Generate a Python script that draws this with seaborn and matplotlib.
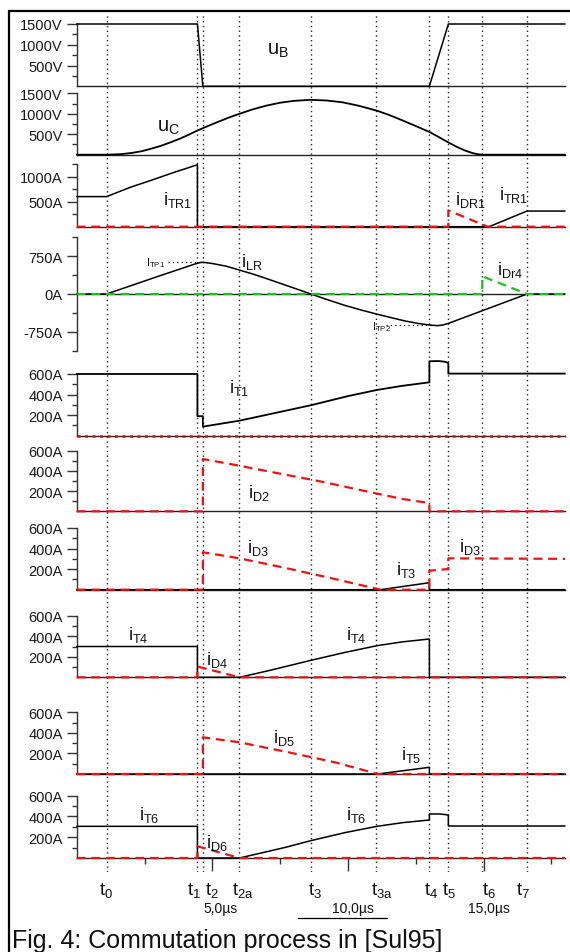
import matplotlib
matplotlib.use("Agg")
import matplotlib.pyplot as plt
import matplotlib.transforms as mtransforms
from matplotlib.lines import Line2D
import seaborn as sns

sns.set_theme(style="ticks")
plt.rcParams["font.family"] = ["Liberation Sans", "DejaVu Sans"]
plt.rcParams["mathtext.fontset"] = "custom"
plt.rcParams["mathtext.rm"] = "Liberation Sans"
plt.rcParams["mathtext.default"] = "regular"

# --- data (time in µs) ---
event_t = [1.1, 4.45, 4.65, 6.0, 8.65, 11.05, 13.0, 13.7, 14.95, 16.6]
event_names = ["0", "1", "2", "2a", "3", "3a", "4", "5", "6", "7"]
event_label_x = [1.08, 4.33, 4.98, 6.12, 8.8, 11.26, 13.05, 13.72, 15.2, 16.45]

uB_t = [0, 4.45, 4.65, 13.0, 13.7, 18]
uB_v = [1500, 1500, 0, 0, 1500, 1500]

uC_t = [0, 1.1, 1.6, 2.0, 2.4, 2.7, 3.1, 3.45, 3.8, 4.1, 4.45, 4.8, 5.2, 5.6, 6.0, 6.5, 7.0, 7.5,
        8.0, 8.63, 9.2, 9.8, 10.4, 11.07, 11.5, 12.0, 12.5, 13.03, 13.35, 13.69, 14.0, 14.33,
        14.6, 14.8, 14.96, 18]
uC_v = [0, 0, 12, 40, 85, 139, 215, 300, 390, 480, 590, 690, 800, 905, 1000, 1110, 1200, 1270,
        1315, 1340, 1325, 1280, 1195, 1075, 975, 840, 700, 547, 430, 303, 195, 98,
        38, 10, 0, 0]

iTR1_t = [0, 1.1, 2.0, 2.8, 3.6, 4.45, 4.45, 15.2, 16.6, 18]
iTR1_v = [600, 600, 790, 935, 1085, 1235, 0, 0, 312, 312]
iDR1_t = [0, 13.7, 13.7, 15.15, 18]
iDR1_v = [0, 0, 325, 0, 0]

iLR_t = [0, 1.1, 2.0, 3.0, 4.0, 4.3, 4.5, 4.65, 5.0, 5.5, 6.0, 6.5, 7.0, 7.7, 8.2, 8.63, 9.2,
         9.85, 10.5, 11.07, 11.6, 12.1, 12.6, 13.0, 13.3, 13.5, 13.69, 16.6, 18]
iLR_v = [0, 0, 165, 350, 530, 585, 618, 630, 605, 553, 475, 395, 305, 175, 82, 0, -105,
         -220, -320, -400, -470, -535, -585, -615, -628, -615, -585, 0, 0]
iDr4_t = [0, 14.95, 14.95, 16.6, 18]
iDr4_v = [0, 0, 352, 0, 0]
itp1_t = [3.37, 4.55]
itp1_v = [630, 630]
itp2_t = [11.4, 13.1]
itp2_v = [-622, -622]

iT1_t = [0, 4.45, 4.45, 4.65, 4.65, 6.0, 7.7, 8.63, 10.0, 11.07, 12.0, 13.0, 13.0, 13.35, 13.6, 13.7, 13.7, 18]
iT1_v = [600, 600, 190, 190, 88, 146, 243, 296, 385, 445, 485, 519, 724, 726, 718, 705, 604, 604]
iD1_t = [0, 18]
iD1_v = [0, 0]

iD2_t = [0, 4.65, 4.65, 6.0, 7.7, 9.0, 10.5, 12.0, 13.0, 13.0, 18]
iD2_v = [0, 0, 518, 451, 362, 295, 208, 122, 82, 0, 0]

iD3_t = [0, 4.65, 4.65, 6.0, 7.7, 9.5, 11.2, 13.0, 13.0, 13.7, 13.7, 18]
iD3_v = [0, 0, 364, 305, 211, 105, 0, 0, 185, 201, 305, 300]
iT3_t = [0, 11.2, 13.0, 13.0, 18]
iT3_v = [0, 0, 68, 0, 0]

iT4_t = [0, 4.45, 4.45, 6.0, 7.0, 7.7, 8.63, 9.9, 11.07, 12.0, 13.0, 13.0, 18]
iT4_v = [300, 300, 0, 0, 60, 105, 165, 243, 308, 345, 373, 0, 0]
iD4_t = [0, 4.45, 4.45, 6.0, 18]
iD4_v = [0, 0, 105, 0, 0]

iD5_t = [0, 4.65, 4.65, 6.0, 7.7, 9.5, 11.1, 18]
iD5_v = [0, 0, 357, 308, 217, 115, 0, 0]
iT5_t = [0, 11.1, 13.0, 13.0, 18]
iT5_v = [0, 0, 65, 0, 0]

iT6_t = [0, 4.45, 4.45, 6.0, 7.0, 7.7, 8.63, 9.9, 11.07, 12.0, 13.0, 13.0, 13.35, 13.6, 13.7, 13.7, 18]
iT6_v = [305, 305, 0, 0, 60, 103, 167, 245, 305, 340, 366, 424, 424, 418, 412, 308, 308]
iD6_t = [0, 4.45, 4.45, 6.0, 18]
iD6_v = [0, 0, 113, 0, 0]

# --- layout ---
W, H = 570, 953
fig = plt.figure(figsize=(W / 100, H / 100), dpi=100)
X0 = 76.7 / W
XW = (565 - 76.7) / W
RED = "#f01010"
GREEN = "#1fc01f"


def trace(ax, t, v, color="black", ls="-", lw=1.1):
    sns.lineplot(x=t, y=v, ax=ax, estimator=None, sort=False, color=color,
                 linestyle=ls, linewidth=lw, clip_on=False, zorder=3)


def panel(top, bottom, ylim, major, minor, unit):
    ax = fig.add_axes([X0, 1 - bottom / H, XW, (bottom - top) / H], facecolor="none")
    ax.set_xlim(0, 18)
    ax.set_ylim(*ylim)
    ax.spines["top"].set_visible(False)
    ax.spines["right"].set_visible(False)
    ax.spines["left"].set_color("#333333")
    ax.spines["bottom"].set_color("#222222")
    ax.spines["left"].set_linewidth(1.0)
    ax.spines["bottom"].set_linewidth(1.0)
    ax.set_yticks(major)
    ax.set_yticklabels([f"{m}{unit}" for m in major])
    ax.set_yticks(minor, minor=True)
    ax.tick_params(axis="y", which="major", length=7, width=1, pad=3,
                   labelsize=10.5, colors="#333333", labelcolor="#1a1a1a")
    ax.tick_params(axis="y", which="minor", length=3.6, width=1, colors="#333333")
    ax.set_xticks([])
    ax.set_xticks([], minor=True)
    return ax


# dotted time markers behind everything
ov = fig.add_axes([X0, 1 - 873 / H, XW, (873 - 15) / H], facecolor="none")
ov.set_xlim(0, 18)
ov.set_ylim(0, 1)
ov.axis("off")
for t in event_t:
    ov.axvline(t, color="0.15", lw=1.0, ls=(0, (1, 2.4)))

cur_major = [200, 400, 600]
cur_minor = [100, 300, 500]
axs = [
    panel(25, 87.3, (0, 1500), [500, 1000, 1500], [250, 750, 1250], "V"),
    panel(94.3, 155.7, (0, 1500), [500, 1000, 1500], [250, 750, 1250], "V"),
    panel(165, 227.7, (0, 1250), [500, 1000], [250, 750, 1250], "A"),
    panel(238.3, 351.7, (-1125, 1125), [-750, 0, 750], [-1125, -375, 375, 1125], "A"),
    panel(375, 436.7, (0, 600), cur_major, cur_minor, "A"),
    panel(451.7, 512.3, (0, 600), cur_major, cur_minor, "A"),
    panel(529, 590.7, (0, 600), cur_major, cur_minor, "A"),
    panel(616.7, 678.3, (0, 600), cur_major, cur_minor, "A"),
    panel(713.3, 775, (0, 600), cur_major, cur_minor, "A"),
    panel(796.7, 859, (0, 600), cur_major, cur_minor, "A"),
]

dash = (0, (4, 2.6))

trace(axs[0], uB_t, uB_v)
trace(axs[1], uC_t, uC_v, lw=1.3)

trace(axs[2], iTR1_t, iTR1_v)
trace(axs[2], iDR1_t, iDR1_v, RED, dash, 1.6)

axs[3].spines["bottom"].set_visible(False)
axs[3].axhline(0, color="#222222", lw=1.0, zorder=2)
trace(axs[3], iLR_t, iLR_v)
trace(axs[3], iDr4_t, iDr4_v, GREEN, dash, 1.6)
trace(axs[3], itp1_t, itp1_v, "black", (0, (1, 2.5)), 0.9)
trace(axs[3], itp2_t, itp2_v, "black", (0, (1, 2.5)), 0.9)

trace(axs[4], iT1_t, iT1_v, lw=1.3)
trace(axs[4], iD1_t, iD1_v, "#d01010", (0, (1.2, 1.8)), 1.8)

trace(axs[5], iD2_t, iD2_v, RED, dash, 1.6)

trace(axs[6], iT3_t, iT3_v)
trace(axs[6], iD3_t, iD3_v, RED, dash, 1.6)

trace(axs[7], iT4_t, iT4_v)
trace(axs[7], iD4_t, iD4_v, RED, dash, 1.6)

trace(axs[8], iT5_t, iT5_v)
trace(axs[8], iD5_t, iD5_v, RED, dash, 1.6)

trace(axs[9], iT6_t, iT6_v)
trace(axs[9], iD6_t, iD6_v, RED, dash, 1.6)

# time axis ticks on the bottom panel
axs[9].set_xticks([5, 10, 15])
axs[9].set_xticklabels([])
axs[9].set_xticks([2.5, 7.5, 12.5, 17.5], minor=True)
axs[9].tick_params(axis="x", which="major", length=9, width=1, colors="#333333")
axs[9].tick_params(axis="x", which="minor", length=4, width=1, colors="#333333")

# signal labels: (panel, t, value, text, size)
labels = [
    (0, 7.02, 778, "$u_B$", 14.5),
    (1, 2.96, 586, "$u_C$", 14.5),
    (2, 3.19, 460, "$i_{TR1}$", 13),
    (2, 15.58, 561, "$i_{TR1}$", 13),
    (2, 13.96, 460, "$i_{DR1}$", 13),
    (3, 6.06, 557, "$i_{LR}$", 13),
    (3, 15.51, 398, "$i_{Dr4}$", 13),
    (3, 2.55, 577, "$I_{TP1}$", 8),
    (3, 10.9, -696, "$I_{TP2}$", 8),
    (4, 5.62, 422, "$i_{T1}$", 13),
    (5, 6.32, 139, "$i_{D2}$", 13),
    (6, 6.28, 364, "$i_{D3}$", 13),
    (6, 11.78, 153, "$i_{T3}$", 13),
    (6, 14.1, 379, "$i_{D3}$", 13),
    (7, 1.88, 373, "$i_{T4}$", 13),
    (7, 4.76, 129, "$i_{D4}$", 13),
    (7, 9.94, 373, "$i_{T4}$", 13),
    (8, 7.22, 308, "$i_{D5}$", 13),
    (8, 11.96, 146, "$i_{T5}$", 13),
    (9, 2.31, 376, "$i_{T6}$", 13),
    (9, 9.94, 376, "$i_{T6}$", 13),
    (9, 4.78, 103, "$i_{D6}$", 13),
]
for k, t, v, s, fs in labels:
    axs[k].text(t, v, s, fontsize=fs, ha="left", va="baseline", color="#111111", zorder=4)

# event names and time scale under the plots
tr = mtransforms.blended_transform_factory(ov.transData, fig.transFigure)
for x, name in zip(event_label_x, event_names):
    ov.text(x, 1 - 895 / H, "$t_{" + name + "}$", transform=tr, fontsize=13.5,
            ha="center", va="baseline", color="#111111")
for x, s in zip([5.3, 10.2, 15.2], ["5,0µs", "10,0µs", "15,0µs"]):
    ov.text(x, 1 - 913 / H, s, transform=tr, fontsize=10, ha="center",
            va="baseline", color="#111111")
ov.plot([8.17, 11.45], [1 - 919 / H] * 2, transform=tr, color="black", lw=0.9, clip_on=False)

# frame and caption
fig.add_artist(Line2D([9 / W, 1], [1 - 12 / H] * 2, color="black", lw=1.6))
fig.add_artist(Line2D([9 / W, 9 / W], [1 - 12 / H, 0], color="black", lw=1.6))
fig.text(12 / W, 1 - 948 / H, "Fig. 4: Commutation process in [Sul95]",
         fontsize=18, ha="left", va="baseline", color="#111111")

fig.savefig("out.png", dpi=100)
